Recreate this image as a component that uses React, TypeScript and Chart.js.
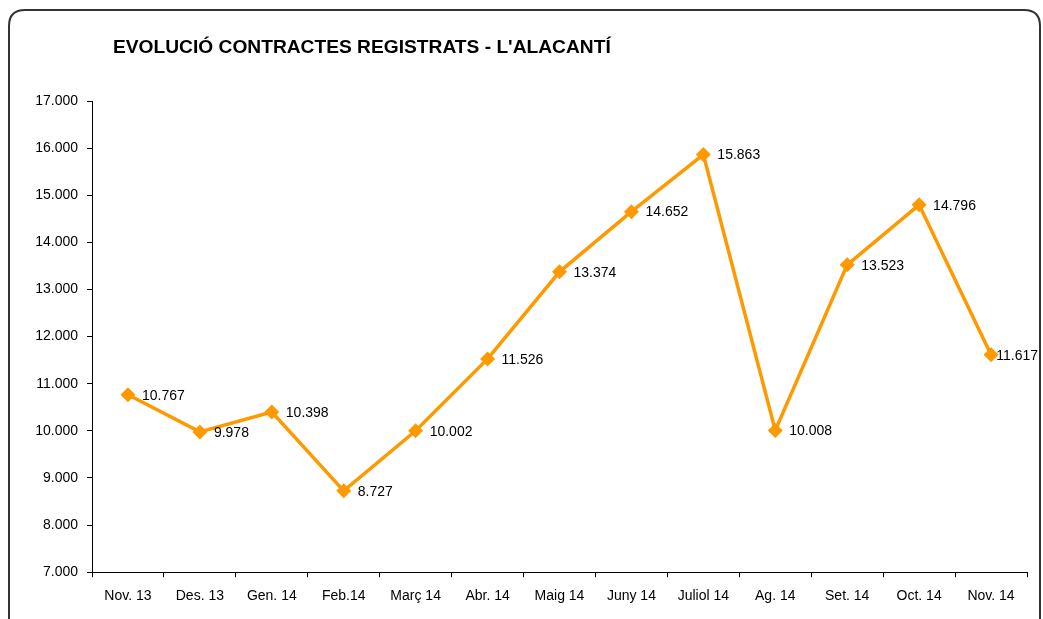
import React, { useEffect, useRef } from "react";
import { Chart, registerables } from "chart.js";

Chart.register(...registerables);

const TITLE = "EVOLUCIÓ CONTRACTES REGISTRATS - L'ALACANTÍ";
const CATEGORIES = [
  "Nov. 13", "Des. 13", "Gen. 14", "Feb.14", "Març 14", "Abr. 14", "Maig 14",
  "Juny 14", "Juliol 14", "Ag. 14", "Set. 14", "Oct. 14", "Nov. 14",
];
const CONTRACTS = [10767, 9978, 10398, 8727, 10002, 11526, 13374, 14652, 15863, 10008, 13523, 14796, 11617];
const Y_MIN = 7000;
const Y_MAX = 17000;
const Y_STEP = 1000;

const FONT = "'Liberation Sans', Arial, sans-serif";
const ORANGE = "#FF9900";

function fmt(v: number): string {
  const n = Math.round(v);
  const th = Math.floor(n / 1000);
  const rest = n % 1000;
  if (th === 0) return String(rest);
  return th + "." + String(rest).padStart(3, "0");
}

const framePlugin = {
  id: "frame",
  beforeDraw(chart: any) {
    const ctx = chart.ctx;
    ctx.save();
    ctx.fillStyle = "#ffffff";
    ctx.fillRect(0, 0, chart.width, chart.height);
    const x = 9, y = 10, w = 1031, h = 640, r = 16;
    ctx.beginPath();
    ctx.moveTo(x + r, y);
    ctx.lineTo(x + w - r, y);
    ctx.quadraticCurveTo(x + w, y, x + w, y + r);
    ctx.lineTo(x + w, y + h - r);
    ctx.quadraticCurveTo(x + w, y + h, x + w - r, y + h);
    ctx.lineTo(x + r, y + h);
    ctx.quadraticCurveTo(x, y + h, x, y + h - r);
    ctx.lineTo(x, y + r);
    ctx.quadraticCurveTo(x, y, x + r, y);
    ctx.closePath();
    ctx.lineWidth = 2;
    ctx.strokeStyle = "#333333";
    ctx.stroke();
    ctx.fillStyle = "#000000";
    ctx.font = "bold 19.2px " + FONT;
    ctx.textBaseline = "middle";
    ctx.textAlign = "left";
    ctx.fillText(TITLE, 113, 47.5);
    ctx.restore();
  },
  afterDatasetsDraw(chart: any) {
    const ctx = chart.ctx;
    const meta = chart.getDatasetMeta(0);
    ctx.save();
    ctx.fillStyle = "#000000";
    ctx.font = "14px " + FONT;
    ctx.textBaseline = "middle";
    ctx.textAlign = "left";
    meta.data.forEach((pt: any, i: number) => {
      const txt = fmt(CONTRACTS[i]);
      const tw = ctx.measureText(txt).width;
      const lx = Math.min(pt.x + 14, chart.width - 5 - tw);
      ctx.fillText(txt, lx, pt.y + 1);
    });
    ctx.restore();
  },
};

export default function App() {
  const ref = useRef<HTMLCanvasElement | null>(null);
  useEffect(() => {
    document.body.style.margin = "0";
    const canvas = ref.current;
    if (!canvas) return;
    const chart = new Chart(canvas, {
      type: "line",
      data: {
        labels: CATEGORIES,
        datasets: [
          {
            data: CONTRACTS,
            borderColor: ORANGE,
            backgroundColor: ORANGE,
            borderWidth: 3.5,
            pointStyle: "rectRot",
            pointRadius: 7.5,
            pointBackgroundColor: ORANGE,
            pointBorderColor: ORANGE,
            pointBorderWidth: 0,
            tension: 0,
            fill: false,
          },
        ],
      },
      options: {
        responsive: false,
        animation: false,
        devicePixelRatio: 1,
        layout: { padding: { left: 30, right: 16, top: 101, bottom: 3 } },
        plugins: {
          legend: { display: false },
          title: { display: false },
          tooltip: { enabled: false },
        },
        scales: {
          x: {
            type: "category",
            offset: true,
            grid: {
              offset: true,
              drawOnChartArea: false,
              drawTicks: true,
              tickLength: 5,
              color: "#000000",
            },
            border: { display: true, color: "#000000", width: 1 },
            ticks: {
              color: "#000000",
              font: { family: FONT, size: 14 },
              padding: 11,
              maxRotation: 0,
              autoSkip: false,
            },
          },
          y: {
            min: Y_MIN,
            max: Y_MAX,
            afterFit: (scale: any) => {
              scale.width = 62;
            },
            grid: {
              drawOnChartArea: false,
              drawTicks: true,
              tickLength: 5,
              color: "#000000",
            },
            border: { display: true, color: "#000000", width: 1 },
            ticks: {
              stepSize: Y_STEP,
              color: "#000000",
              font: { family: FONT, size: 14 },
              padding: 9,
              callback: (v: any) => fmt(Number(v)),
            },
          },
        },
      },
      plugins: [framePlugin],
    });
    return () => chart.destroy();
  }, []);
  return (
    <canvas
      ref={ref}
      width={1043}
      height={619}
      style={{ position: "fixed", left: 0, top: 0, width: 1043, height: 619 }}
    />
  );
}
